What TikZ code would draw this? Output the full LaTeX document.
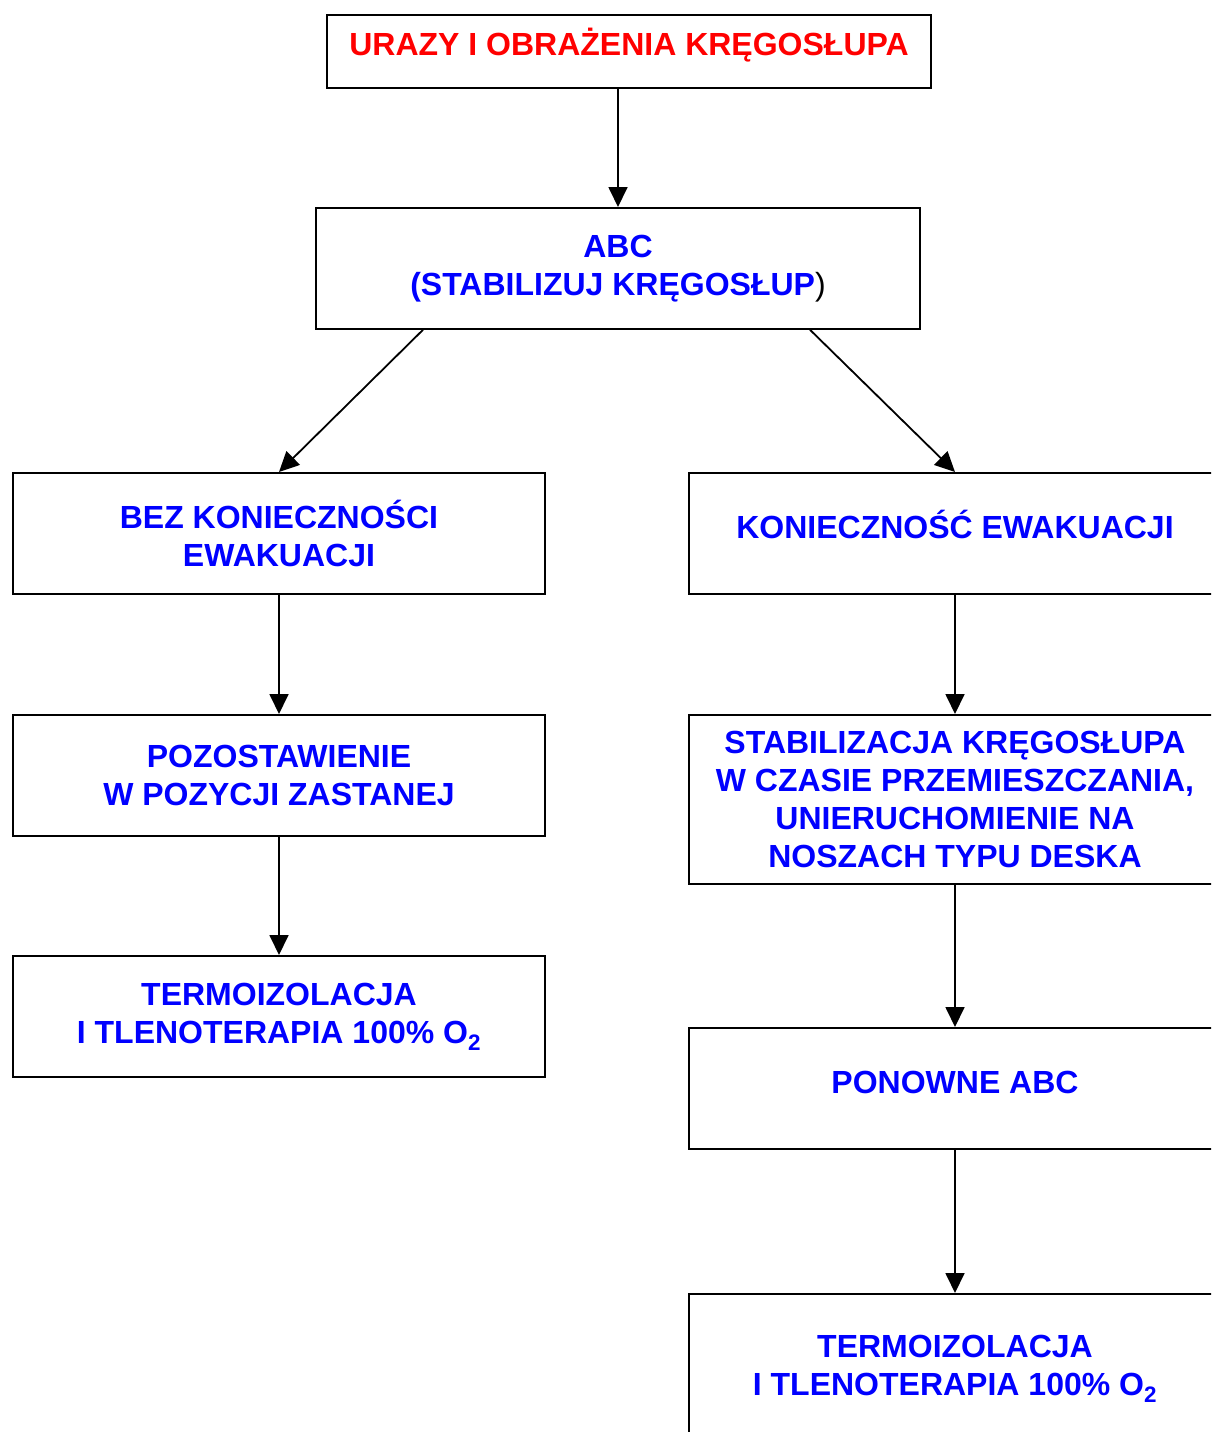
\documentclass[tikz,border=0pt]{standalone}
\usepackage{fontspec}
\setmainfont{Liberation Sans}
\usetikzlibrary{arrows.meta}
\definecolor{titlered}{RGB}{255,0,0}
\definecolor{stepblue}{RGB}{0,0,255}
\newcommand{\upby}[2]{\raisebox{#1}[\height][\depth]{#2}}
\tikzset{
  box/.style={draw, line width=1.8pt, anchor=north, align=center,
    minimum width=532pt, minimum height=121pt, text=stepblue,
    font=\bfseries\fontsize{32}{38}\selectfont},
  link/.style={line width=1.8pt, -{Triangle[length=20pt,width=19pt]}}
}

\begin{document}
\begin{tikzpicture}[x=1pt,y=-1pt]
\useasboundingbox (0,0) rectangle (1211,1432);
\clip (0,0) rectangle (1211,1432);
% top
\node[box, minimum width=604pt, minimum height=73pt, text=titlered] (uraz) at (629,14) {\upby{6pt}{URAZY I OBRAŻENIA KRĘGOSŁUPA}};
\node[box, minimum width=604pt] (abc) at (618,207) {ABC\\(STABILIZUJ KRĘGOSŁUP{\color{black}\mdseries)}};
% left branch
\node[box] (bez) at (279,472) {BEZ KONIECZNOŚCI\\EWAKUACJI};
\node[box] (pozo) at (279,714) {POZOSTAWIENIE\\W POZYCJI ZASTANEJ};
\node[box] (termL) at (279,955) {TERMOIZOLACJA\\I TLENOTERAPIA 100\% O\textsubscript{2}};
% right branch
\node[box] (kon) at (955,472) {\upby{9pt}{KONIECZNOŚĆ EWAKUACJI}};
\node[box, minimum height=169pt] (stab) at (955,714) {STABILIZACJA KRĘGOSŁUPA\\W CZASIE PRZEMIESZCZANIA,\\UNIERUCHOMIENIE NA\\NOSZACH TYPU DESKA};
\node[box] (ponow) at (955,1027) {\upby{6pt}{PONOWNE ABC}};
\node[box, minimum height=150pt] (termR) at (955,1293) {TERMOIZOLACJA\\I TLENOTERAPIA 100\% O\textsubscript{2}};

\draw[link] (uraz.south -| abc.north) -- (abc.north);
\draw[link] ([xshift=-195pt]abc.south) -- (bez.north);
\draw[link] ([xshift=192pt]abc.south) -- (kon.north);
\draw[link] (bez) -- (pozo);
\draw[link] (pozo) -- (termL);
\draw[link] (kon) -- (stab);
\draw[link] (stab) -- (ponow);
\draw[link] (ponow) -- (termR);
\end{tikzpicture}
\end{document}
